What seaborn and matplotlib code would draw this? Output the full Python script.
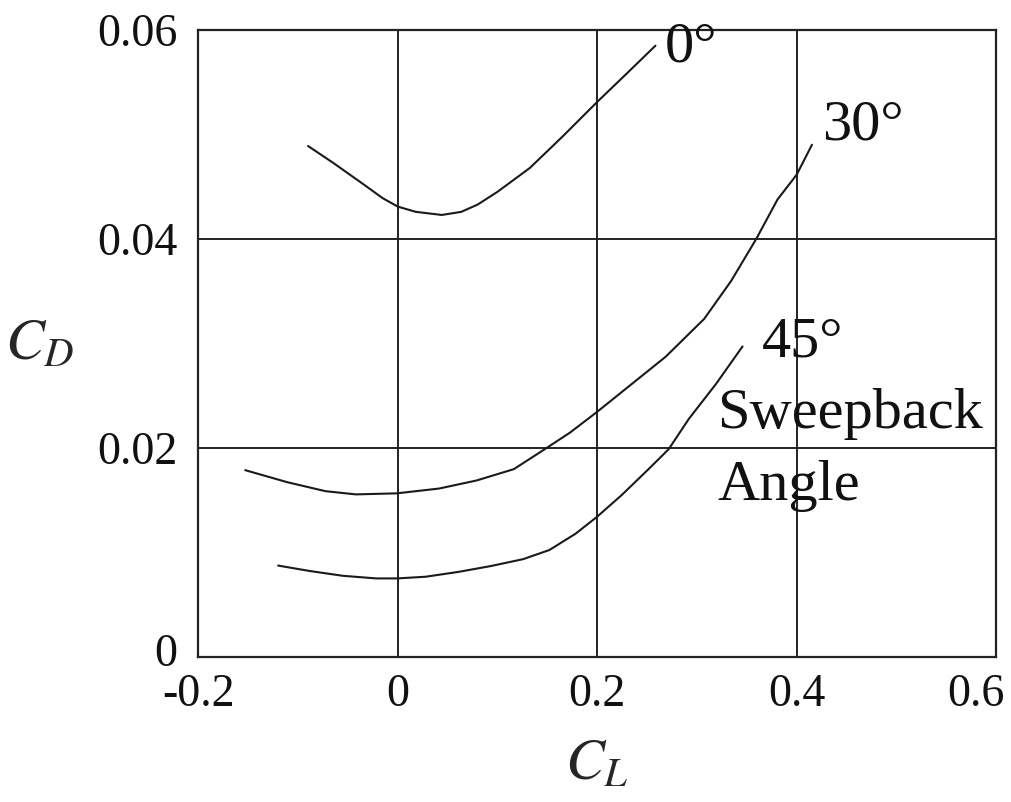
import matplotlib
matplotlib.use("Agg")
import matplotlib.pyplot as plt
import matplotlib.transforms as mtransforms
import seaborn as sns
import pandas as pd

# Drag polar readings (C_L, C_D) for each sweepback angle
cl_0 = [-0.0897, -0.0647, -0.0380, -0.0147, 0.0003, 0.0183, 0.0444, 0.0640,
        0.0804, 0.1000, 0.1327, 0.1654, 0.2000, 0.2316, 0.2586]
cd_0 = [0.0489, 0.0473, 0.0455, 0.0439, 0.0431, 0.0426, 0.0423, 0.0426,
        0.0433, 0.0445, 0.0468, 0.0498, 0.0531, 0.0560, 0.0585]

cl_30 = [-0.1527, -0.1106, -0.0723, -0.0417, -0.0008, 0.0417, 0.0792, 0.1167,
         0.1467, 0.1729, 0.2000, 0.2301, 0.2688, 0.3075, 0.3345, 0.3596,
         0.3809, 0.4002, 0.4155]
cd_30 = [0.01788, 0.01673, 0.01587, 0.01556, 0.01566, 0.01612, 0.01689, 0.01798,
         0.01983, 0.02147, 0.02345, 0.02576, 0.02873, 0.03236, 0.03599, 0.04000,
         0.04377, 0.04616, 0.04902]

cl_45 = [-0.1197, -0.0880, -0.0547, -0.0213, -0.0003, 0.0281, 0.0608, 0.0934,
         0.1262, 0.1523, 0.1784, 0.1997, 0.2248, 0.2517, 0.2719, 0.2921,
         0.3190, 0.3459]
cd_45 = [0.00875, 0.00823, 0.00777, 0.00752, 0.00752, 0.00768, 0.00814, 0.00870,
         0.00937, 0.01024, 0.01179, 0.01339, 0.01550, 0.01798, 0.01989, 0.02279,
         0.02609, 0.02972]

angles = ["0°", "30°", "45°"]
x_ticks = [-0.2, 0, 0.2, 0.4, 0.6]
x_tick_labels = ["-0.2", "0", "0.2", "0.4", "0.6"]
y_ticks = [0, 0.02, 0.04, 0.06]
y_tick_labels = ["0", "0.02", "0.04", "0.06"]

frames = []
for name, xs, ys in zip(angles, [cl_0, cl_30, cl_45], [cd_0, cd_30, cd_45]):
    frames.append(pd.DataFrame({"CL": xs, "CD": ys, "angle": name}))
df = pd.concat(frames, ignore_index=True)

sns.set_theme(style="white")
plt.rcParams["font.family"] = ["Liberation Serif", "DejaVu Serif"]
plt.rcParams["mathtext.fontset"] = "stix"
plt.rcParams["axes.unicode_minus"] = False

fig = plt.figure(figsize=(10.11, 8.02), dpi=100)
ax = fig.add_axes([198 / 1011, 1 - 657 / 802, 798 / 1011, 627 / 802])

sns.lineplot(data=df, x="CL", y="CD", hue="angle", units="angle",
             estimator=None, sort=False,
             palette={a: "#1a1a1a" for a in angles},
             linewidth=1.5, legend=False, ax=ax)

ax.set_xlim(-0.2, 0.6)
ax.set_ylim(0, 0.06)
ax.set_xticks(x_ticks)
ax.set_xticklabels(x_tick_labels)
ax.set_yticks(y_ticks)
ax.set_yticklabels(y_tick_labels)
ax.tick_params(axis="both", labelsize=33, length=0, colors="#111111")
ax.tick_params(axis="y", pad=15)
ax.tick_params(axis="x", pad=12)

# pull the last x tick label inward so it stays on the canvas
last = ax.get_xticklabels()[-1]
last.set_transform(last.get_transform() +
                   mtransforms.ScaledTranslation(-0.20, 0, fig.dpi_scale_trans))
# lift the y "0" label clear of the "-0.2" below it
first_y = ax.get_yticklabels()[0]
first_y.set_transform(first_y.get_transform() +
                      mtransforms.ScaledTranslation(0, 0.07, fig.dpi_scale_trans))

ax.grid(True, color="#222222", linewidth=1.4)
ax.set_axisbelow(True)
for s in ax.spines.values():
    s.set_color("#222222")
    s.set_linewidth(1.6)

ax.set_xlabel("$C_L$", fontsize=42, ha="center", va="center")
ax.xaxis.set_label_coords(0.5, -0.172)
ax.set_ylabel("$C_D$", fontsize=42, rotation=0, ha="center", va="center")
ax.yaxis.set_label_coords(-0.198, 0.498)

txt = dict(fontsize=42, color="#111111", va="baseline", ha="left")
ax.text(0.268, 0.0570, "0°", **txt)
ax.text(0.4256, 0.0495, "30°", **txt)
ax.text(0.3654, 0.0288, "45°", **txt)
ax.text(0.3203, 0.0219, "Sweepback", **txt)
ax.text(0.3203, 0.0150, "Angle", **txt)

fig.savefig("out.png", dpi=100)
